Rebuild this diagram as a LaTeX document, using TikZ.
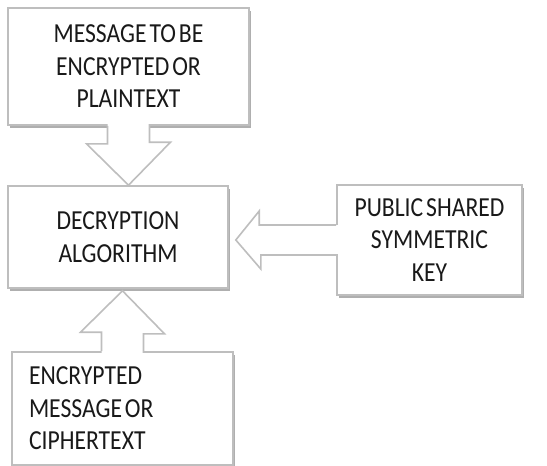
\documentclass[tikz,border=0pt]{standalone}
\usepackage{fontspec}
\setmainfont{Carlito}[FakeStretch=0.86, WordSpace=0.55]
\usepackage{tikz}
\usetikzlibrary{calc,shadows}

\definecolor{boxgray}{RGB}{190,190,190}
\definecolor{shadowgray}{RGB}{175,175,175}
\definecolor{inkgray}{RGB}{25,25,25}

\tikzset{
  stagebox/.style={draw=boxgray, line width=1.6pt, fill=white, inner sep=0pt,
    drop shadow={shadow xshift=1.5pt, shadow yshift=-2.5pt, fill=shadowgray, opacity=1},
    text=inkgray, font=\fontsize{27.5}{32.5}\selectfont, align=center},
  blockarrow/.style={draw=boxgray, line width=1.6pt, line join=miter},
  blockfill/.style={fill=white}
}

\begin{document}
\begin{tikzpicture}[x=1pt, y=-1pt]
  \useasboundingbox (0,0) rectangle (547,466);

  \node[stagebox, minimum width=241pt, minimum height=117pt] (msg) at (128.5,66.5)
    {MESSAGE TO BE\\ENCRYPTED OR\\PLAINTEXT};
  \node[stagebox, minimum width=220pt, minimum height=102pt] (alg) at (118,237)
    {DECRYPTION\\ALGORITHM};
  \node[stagebox, minimum width=185pt, minimum height=110pt] (key) at (429.5,240)
    {PUBLIC SHARED\\SYMMETRIC\\KEY};
  \node[stagebox, minimum width=221pt, minimum height=113pt, text width=187pt,
        align=flush left] (ctext) at (122.5,408.5)
    {ENCRYPTED\\MESSAGE OR\\CIPHERTEXT};

  % plaintext into the algorithm
  \coordinate (tipa) at (msg.south |- alg.north);
  \fill[blockfill] ($(msg.south)+(-21,-2)$) -- ++(0,20) -- ++(-21,0) -- (tipa)
    -- ++(42,-43) -- ++(-21,0) -- ++(0,-20) -- cycle;
  \draw[blockarrow] ($(msg.south)+(-21,0)$) -- ++(0,18) -- ++(-21,0) -- (tipa)
    -- ++(42,-43) -- ++(-21,0) -- ++(0,-18);

  % key into the algorithm
  \coordinate (tipb) at ($(alg.east |- key.west)+(7,0)$);
  \fill[blockfill] ($(key.west)+(2,-15)$) -- ++(-79,0) -- ++(0,-14) -- (tipb)
    -- ++(25,29) -- ++(0,-14) -- ++(79,0) -- cycle;
  \draw[blockarrow] ($(key.west)+(0,-15)$) -- ++(-77,0) -- ++(0,-14) -- (tipb)
    -- ++(25,29) -- ++(0,-14) -- ++(77,0);

  % ciphertext into the algorithm
  \coordinate (tipc) at ($(ctext.north |- alg.south)+(0,2)$);
  \fill[blockfill] ($(ctext.north)+(-21,2)$) -- ++(0,-21) -- ++(-21,0) -- (tipc)
    -- ++(42,43) -- ++(-21,0) -- ++(0,21) -- cycle;
  \draw[blockarrow] ($(ctext.north)+(-21,0)$) -- ++(0,-19) -- ++(-21,0) -- (tipc)
    -- ++(42,43) -- ++(-21,0) -- ++(0,19);
\end{tikzpicture}
\end{document}
